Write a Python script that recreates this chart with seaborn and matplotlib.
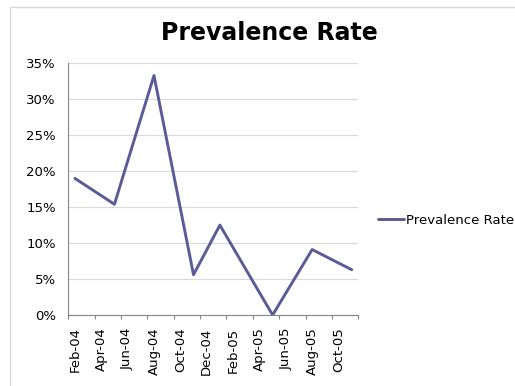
import pandas as pd
import seaborn as sns
import matplotlib.pyplot as plt
from matplotlib.lines import Line2D
from matplotlib.ticker import FixedLocator, PercentFormatter

# Survey months and prevalence values
months = ["2004-02", "2004-05", "2004-08", "2004-11", "2005-01",
          "2005-05", "2005-08", "2005-11"]
rates = [0.190, 0.154, 0.333, 0.056, 0.125, 0.000, 0.091, 0.063]
tick_labels = ["Feb-04", "Apr-04", "Jun-04", "Aug-04", "Oct-04", "Dec-04",
               "Feb-05", "Apr-05", "Jun-05", "Aug-05", "Oct-05"]
series_name = "Prevalence Rate"

LINE_COLOR = "#5B5B97"
GRID_COLOR = "#D9D9D9"
SPINE_COLOR = "#868686"
TEXT_COLOR = "#000000"

sns.set_style("white")
plt.rcParams["font.family"] = ["DejaVu Sans"]

# Month slots on a date axis: each month is one slot, points sit mid-slot
start = pd.Period("2004-02", freq="M")
df = pd.DataFrame({
    "month": [pd.Period(m, freq="M") for m in months],
    series_name: rates,
})
df["slot"] = [(p - start).n + 0.5 for p in df["month"]]

fig = plt.figure(figsize=(5.15, 3.86), dpi=100)
ax = fig.add_axes([68.3 / 515, 1 - 315 / 386, 290 / 515, 251.7 / 386])

sns.lineplot(data=df, x="slot", y=series_name, ax=ax, color=LINE_COLOR,
             linewidth=2.1, label=series_name, legend=False)

ax.set_xlim(0, 22)
ax.set_ylim(0, 0.35)
ax.set_yticks([i * 0.05 for i in range(8)])
ax.yaxis.set_major_formatter(PercentFormatter(1.0, decimals=0))
ax.tick_params(axis="y", length=0, pad=9, labelsize=9.5, labelcolor=TEXT_COLOR)

# major ticks at slot boundaries, labels on minor ticks in the first month of each pair
ax.xaxis.set_major_locator(FixedLocator([2 * i for i in range(12)]))
ax.xaxis.set_minor_locator(FixedLocator([2 * i + 0.5 for i in range(11)]))
ax.set_xticklabels([], minor=False)
ax.set_xticklabels(tick_labels, minor=True, rotation=90)
ax.tick_params(axis="x", which="major", length=3, width=0.8, color=SPINE_COLOR,
               direction="out", bottom=True)
ax.tick_params(axis="x", which="minor", length=0, pad=9, labelsize=9.5,
               labelcolor=TEXT_COLOR)

ax.grid(axis="y", color=GRID_COLOR, linewidth=0.8)
ax.set_axisbelow(True)
for side in ["top", "right"]:
    ax.spines[side].set_visible(False)
for side in ["left", "bottom"]:
    ax.spines[side].set_color(SPINE_COLOR)
    ax.spines[side].set_linewidth(0.8)
ax.set_xlabel("")
ax.set_ylabel("")

fig.text(269 / 515, 1 - 33 / 386, "Prevalence Rate", ha="center", va="center",
         fontsize=17, fontweight="bold", color=TEXT_COLOR)

handle = Line2D([], [], color=LINE_COLOR, linewidth=2.1)
fig.legend([handle], [series_name], loc="center left",
           bbox_to_anchor=(378 / 515, 1 - 220 / 386), frameon=False,
           fontsize=9.5, handlelength=2.0, handletextpad=0.15,
           borderpad=0, borderaxespad=0, labelcolor=TEXT_COLOR)

# chart area border (top and left edges visible)
fig.add_artist(Line2D([10 / 515, 10 / 515, 1], [0, 1 - 7 / 386, 1 - 7 / 386],
                      transform=fig.transFigure, color=GRID_COLOR, linewidth=1))

fig.savefig("out.png", dpi=100)
